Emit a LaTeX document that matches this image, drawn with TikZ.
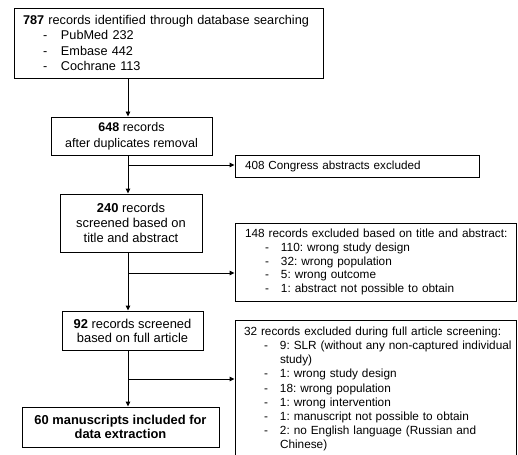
\documentclass[tikz,border=0pt]{standalone}
\usepackage{fontspec}
\setmainfont{Liberation Sans}
\usetikzlibrary{arrows.meta}
\frenchspacing
\newcommand\myitem[1]{\hspace*{20pt}\makebox[16pt][l]{-}\mbox{#1}}
\newcommand\mycont[1]{\hspace*{36pt}\mbox{#1}}
\newcommand\myitemA[1]{\hspace*{20pt}\makebox[18pt][l]{-}\mbox{#1}}
\begin{document}
\begin{tikzpicture}[x=1pt,y=-1pt,
  box/.style={draw, line width=0.9pt, inner sep=0pt},
  cbox/.style={box, align=center},
  lbox/.style={box, align=left, inner xsep=10pt},
  arr/.style={line width=0.9pt, -{Triangle[length=5pt,width=4.5pt]}}]
\useasboundingbox (0,0) rectangle (518,454);
\clip (0,0) rectangle (518,454);
\node[lbox, inner xsep=9pt, minimum width=309pt, minimum height=70pt, text width=291pt,
  font=\fontsize{12.7}{15.2}\selectfont\frenchspacing] (b1) at (168.5,43)
  {\mbox{\textbf{787} records identified through database searching}\\
   \myitemA{PubMed 232}\\
   \myitemA{Embase 442}\\
   \myitemA{Cochrane 113}};
\node[cbox, minimum width=161pt, minimum height=38pt, font=\fontsize{12.5}{16}\selectfont] (b2) at (131.5,136)
  {\textbf{648} records\\after duplicates removal};
\node[lbox, minimum width=244pt, minimum height=22pt, text width=224pt, font=\fontsize{11.7}{14}\selectfont] (b3) at (357,166)
  {408 Congress abstracts excluded};
\node[cbox, minimum width=142pt, minimum height=58pt, font=\fontsize{12.9}{15}\selectfont] (b4) at (131,223)
  {\textbf{240} records\\screened based on\\title and abstract};
\node[lbox, minimum width=281pt, minimum height=78pt, text width=261pt, font=\fontsize{11.8}{13.6}\selectfont\frenchspacing] (b5) at (375.5,262)
  {\mbox{148 records excluded based on title and abstract:}\\
   \myitem{110: wrong study design}\\
   \myitem{32: wrong population}\\
   \myitem{5: wrong outcome}\\
   \myitem{1: abstract not possible to obtain}};
\node[cbox, minimum width=141pt, minimum height=39pt, font=\fontsize{12.9}{14}\selectfont] (b6) at (132.5,330.5)
  {\textbf{92} records screened\\based on full article};
\node[lbox, inner xsep=9pt, minimum width=281pt, minimum height=138pt, text width=263pt, font=\fontsize{11.8}{14.2}\selectfont\frenchspacing] (b7) at (375.5,389)
  {\mbox{32 records excluded during full article screening:}\\
   \myitem{9: SLR (without any non-captured individual}\\
   \mycont{study)}\\
   \myitem{1: wrong study design}\\
   \myitem{18: wrong population}\\
   \myitem{1: wrong intervention}\\
   \myitem{1: manuscript not possible to obtain}\\
   \myitem{2: no English language (Russian and}\\
   \mycont{Chinese)}};
\node[cbox, minimum width=197pt, minimum height=40pt, font=\fontsize{12.9}{13.6}\selectfont\bfseries] (b8) at (120.5,427)
  {60 manuscripts included for\\data extraction};
\coordinate (t) at (128,0);
\coordinate (j1) at (128,165);
\coordinate (j2) at (128,273);
\coordinate (j3) at (128,379);
\draw[arr] (b1.south -| t) -- (b2.north -| t);
\draw[arr] (b2.south -| t) -- (b4.north -| t);
\draw[arr] (j1) -- (j1 -| b3.west);
\draw[arr] (b4.south -| t) -- (b6.north -| t);
\draw[arr] (j2) -- (j2 -| b5.west);
\draw[arr] (b6.south -| t) -- (b8.north -| t);
\draw[arr] (j3) -- (j3 -| b7.west);
\end{tikzpicture}
\end{document}
